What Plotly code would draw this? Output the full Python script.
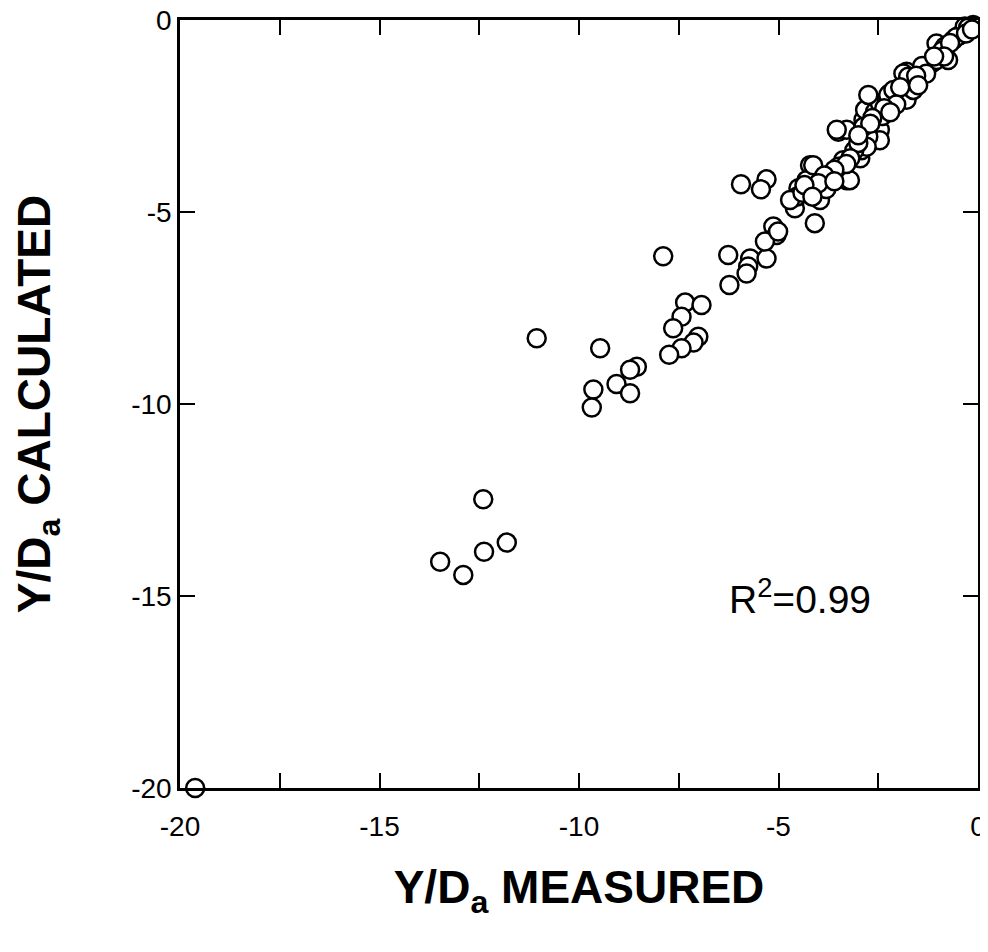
import plotly.graph_objects as go

measured = [
    -19.62, -12.40, -11.81, -12.38, -13.48, -12.90,
    -11.06, -9.47, -8.55, -8.72, -9.06, -8.72, -9.64, -9.68,
    -7.89, -7.34, -6.93, -7.43, -7.64, -7.01, -7.13, -7.43, -7.74,
    -6.26, -6.23, -5.71, -5.30, -5.76, -5.80, -5.13, -5.05, -5.34, -5.01,
    -5.94, -5.30, -5.44, -4.21, -4.25, -4.50, -4.63, -4.59, -4.09, -3.96,
    -4.54, -3.71, -3.42, -3.29, -3.50, -3.29, -2.79, -2.54, -2.95, -3.38,
    -3.50, -2.92, -4.30, -4.71, -4.13, -3.38, -3.21, -3.54, -2.46, -2.46,
    -2.75, -2.79, -2.87, -2.87, -2.83, -2.54, -2.58, -2.46, -2.75, -2.29,
    -2.21, -2.25, -2.12, -1.79, -1.67, -1.62, -1.83, -1.79, -1.87, -1.75,
    -1.33, -1.25, -1.12, -1.17, -1.04, -0.75, -0.95, -1.04, -0.83, -0.62,
    -0.45, -0.33, -0.12, -0.55, -0.90, -1.40, -2.40, -3.10, -3.80, -4.40,
    -0.25, -0.70, -0.85, -1.10, -1.30, -1.55, -1.95, -2.05, -2.35, -2.65,
    -2.70, -3.00, -3.20, -3.30, -3.60, -3.85, -4.00, -4.35, -4.15, -3.60,
    -3.00, -2.20, -1.50, -0.30, -0.15,
]
calculated = [
    -20.00, -12.48, -13.61, -13.85, -14.11, -14.45,
    -8.29, -8.55, -9.03, -9.11, -9.48, -9.72, -9.62, -10.09,
    -6.15, -7.36, -7.42, -7.73, -8.03, -8.25, -8.40, -8.55, -8.72,
    -6.12, -6.90, -6.21, -6.21, -6.42, -6.60, -5.38, -5.60, -5.77, -5.51,
    -4.28, -4.15, -4.41, -3.78, -4.21, -4.38, -4.69, -4.90, -5.29, -4.69,
    -4.60, -4.17, -3.99, -4.17, -2.91, -2.86, -2.86, -3.08, -3.60, -3.65,
    -3.82, -3.39, -4.17, -4.69, -3.78, -3.99, -4.17, -2.86, -2.86, -3.13,
    -3.04, -3.30, -2.60, -2.78, -2.34, -2.39, -2.39, -2.17, -1.95, -2.08,
    -1.91, -1.95, -1.82, -2.08, -1.78, -1.82, -1.61, -1.35, -1.39, -1.48,
    -1.30, -1.17, -1.08, -1.13, -1.04, -1.04, -0.91, -0.61, -0.69, -0.52,
    -0.39, -0.17, -0.13, -0.45, -0.80, -1.20, -2.50, -3.40, -4.40, -4.50,
    -0.20, -0.60, -0.95, -0.95, -1.40, -1.45, -1.75, -2.20, -2.30, -2.55,
    -2.70, -3.20, -3.60, -3.75, -3.90, -4.05, -4.25, -4.30, -4.60, -4.20,
    -3.00, -2.40, -1.70, -0.35, -0.25,
]

x_title = "Y/D<sub>a</sub> MEASURED"
y_title = "Y/D<sub>a</sub> CALCULATED"
r2_text = "R<sup>2</sup>=0.99"
tick_vals = [-20, -15, -10, -5, 0]
tick_text = ["-20", "-15", "-10", "-5", "0"]

fig = go.Figure()
fig.add_trace(go.Scatter(
    x=measured, y=calculated, mode="markers",
    marker=dict(size=18, color="white", line=dict(color="black", width=2.5)),
    showlegend=False, cliponaxis=False,
))

axis_common = dict(
    showgrid=False, zeroline=False, showline=True, linecolor="black", linewidth=2.5,
    mirror="ticks", ticks="inside", ticklen=15, tickwidth=2, tickcolor="black",
    tickvals=tick_vals, ticktext=tick_text, ticklabeloverflow="allow",
    tickfont=dict(family="Liberation Sans, Arial", size=28, color="black"),
)

fig.update_xaxes(
    range=[-20, 0], **axis_common,
    minor=dict(dtick=2.5, ticks="inside", ticklen=15, tickwidth=2, tickcolor="black", showgrid=False),
    ticklabelstandoff=12,
    title=dict(text=x_title, standoff=30,
               font=dict(family="Liberation Sans, Arial", size=46, color="black", weight="bold")),
)
fig.update_yaxes(
    range=[-20, 0], **axis_common,
    ticklabelstandoff=0,
    title=dict(text=y_title, standoff=70,
               font=dict(family="Liberation Sans, Arial", size=46, color="black", weight="bold")),
)

fig.add_annotation(
    x=-4.45, y=-15.0, xref="x", yref="y", text=r2_text, showarrow=False,
    font=dict(family="Liberation Sans, Arial", size=39, color="black"),
)

fig.update_layout(
    width=980, height=944,
    margin=dict(l=172, r=10, t=12, b=164, autoexpand=False),
    plot_bgcolor="white", paper_bgcolor="white",
)

fig.write_html("out.html")
